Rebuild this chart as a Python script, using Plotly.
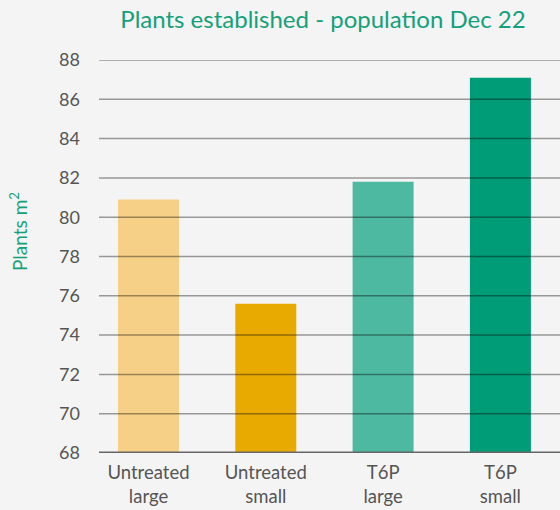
import plotly.graph_objects as go

categories = ["Untreated<br>large", "Untreated<br>small", "T6P<br>large", "T6P<br>small"]
values = [80.9, 75.6, 81.8, 87.1]
colors = ["#F5D086", "#E8AA00", "#4DB9A0", "#009B77"]
y_ticks = [68, 70, 72, 74, 76, 78, 80, 82, 84, 86, 88]

fig = go.Figure()
fig.add_trace(go.Bar(x=list(range(len(categories))), y=values, marker_color=colors,
                     marker_line_width=0, width=0.52))

shapes = []
for v in y_ticks[1:]:
    shapes.append(dict(type="line", xref="paper", yref="y", x0=0, x1=1, y0=v, y1=v,
                       line=dict(color="rgba(0,0,0,0.38)", width=1.5), layer="above"))
shapes.append(dict(type="line", xref="paper", yref="y", x0=0, x1=1, y0=68, y1=68,
                   line=dict(color="#666666", width=3), layer="above"))

fig.update_layout(
    width=560, height=510,
    paper_bgcolor="#f4f4f4", plot_bgcolor="#f4f4f4",
    margin=dict(l=99, r=0, t=60, b=57),
    font=dict(family="Lato", color="#555555", size=18),
    title=dict(text="Plants established - population Dec 22", x=(323 - 99) / 461, xref="paper",
               xanchor="center", y=1 - 20 / 510, yanchor="middle", yref="container",
               font=dict(family="Lato", size=24, color="#14A07A")),
    showlegend=False,
    shapes=shapes,
    bargap=0.48,
    annotations=[dict(text="Plants m<sup>2</sup>", textangle=-90, showarrow=False,
                      xref="paper", yref="paper", x=(18 - 99) / 461, y=(453 - 232) / 393,
                      xanchor="center", yanchor="middle",
                      font=dict(family="Lato", size=19, color="#14A07A"))],
)
fig.update_xaxes(tickmode="array", tickvals=list(range(len(categories))), ticktext=categories,
                 range=[-0.422, 3.508], showgrid=False, showline=False, zeroline=False,
                 tickfont=dict(size=18.5, color="#555555"), ticklabelstandoff=6)
fig.update_yaxes(range=[68, 88], tickvals=y_ticks, showgrid=False, zeroline=False, showline=False,
                 tickfont=dict(size=18, color="#555555"), ticklabelstandoff=18)

fig.write_html("out.html", config={"displayModeBar": False},
               post_script="document.body.style.margin='0';")
